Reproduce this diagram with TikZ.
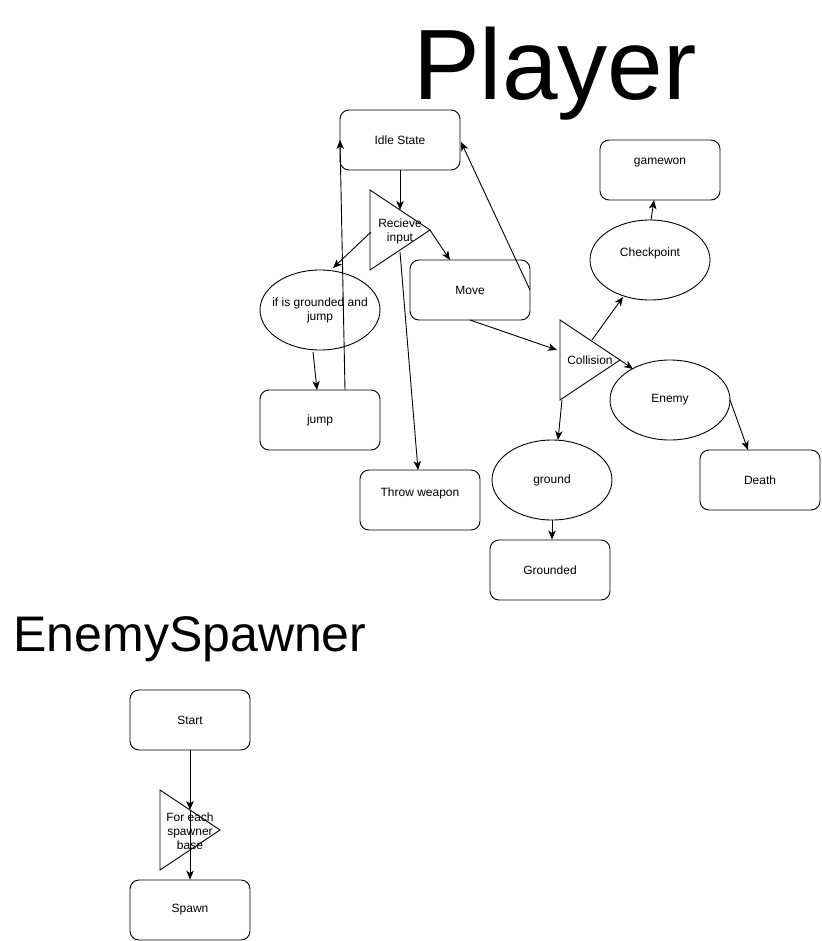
\documentclass[tikz,border=0pt]{standalone}
\usepackage{fontspec}
\setmainfont{Liberation Sans}
\usetikzlibrary{arrows.meta,shapes.geometric}
\begin{document}
\begin{tikzpicture}[x=1pt,y=-1pt,
  every node/.style={inner sep=0pt},
  box/.style={draw, line width=0.9pt, rounded corners=9pt, minimum width=120pt, minimum height=60pt, font=\fontsize{12}{14}\selectfont},
  ell/.style={draw, line width=0.9pt, ellipse, minimum width=120pt, minimum height=80pt, font=\fontsize{12}{14}\selectfont},
  lbl/.style={font=\fontsize{12}{14}\selectfont, align=center},
  tri/.style={draw, line width=0.9pt, line join=miter},
  arr/.style={draw, line width=0.9pt, -{Stealth[length=9pt,width=7.5pt,inset=2.5pt]}},
  title/.style={anchor=base}]
\useasboundingbox (0,0) rectangle (821,941);

% titles
\node[title, font=\fontsize{100}{100}\selectfont] (tplayer) at (555,100) {Player};
\node[title, font=\fontsize{50}{50}\selectfont] (tspawner) at (190,651) {EnemySpawner};

% Player nodes
\node[box] (idle) at (400,140) {Idle State};
\node[box] (move) at (470,290) {Move};
\node[ell] (ifg) at (320,310) {};
\node[lbl] (ifgT) at (320,310) {if is grounded and\\jump};
\node[box] (jump) at (320,420) {jump};
\node[box] (throw) at (420,500) {};
\node[lbl] (throwT) at (420,493) {Throw weapon};
\node[box] (gamewon) at (660,170) {};
\node[lbl] (gamewonT) at (660,163) {gamewon};
\node[ell] (check) at (650,260) {};
\node[lbl] (checkT) at (650,253) {Checkpoint};
\node[ell] (enemy) at (670,400) {Enemy};
\node[box] (death) at (760,480) {Death};
\node[ell] (ground) at (552,480) {ground};
\node[box] (grounded) at (550,570) {Grounded};

% triangles
\coordinate (recvT) at (370,190);
\coordinate (recvB) at (370,270);
\coordinate (recvA) at (430,230);
\draw[tri] (recvT) -- (recvA) -- (recvB) -- cycle;
\node[lbl] (recv) at (400,231) {Recieve\\input};

\coordinate (colT) at (560,320);
\coordinate (colB) at (560,400);
\coordinate (colA) at (620,360);
\draw[tri] (colT) -- (colA) -- (colB) -- cycle;
\node[lbl] (col) at (590,360) {Collision};

% Spawner nodes
\node[box] (start) at (190,720) {Start};
\node[box] (spawn) at (190,910) {Spawn};
\coordinate (feT) at (160,790);
\coordinate (feB) at (160,870);
\coordinate (feA) at (220,830);
\draw[tri] (feT) -- (feA) -- (feB) -- cycle;
\node[lbl] (fe) at (190,831) {For each\\spawner\\base};

% connector endpoints
\coordinate (recvIn) at (400,210);
\coordinate (recvL) at (371,232);
\coordinate (ifgIn) at (333,268);
\coordinate (moveIn) at (450,260);
\coordinate (recvMid) at (400,252);
\coordinate (throwIn) at (418,470);
\coordinate (moveR) at (530,290);
\coordinate (idleR) at (461,142);
\coordinate (ifgOut) at (313,352);
\coordinate (jumpIn) at (317,390);
\coordinate (jumpOut) at (345,390);
\coordinate (idleL) at (340,140);
\coordinate (moveOut) at (470,320);
\coordinate (colIn) at (557,350);
\coordinate (colUp) at (592,340);
\coordinate (checkIn) at (623,297);
\coordinate (checkOut) at (651,220);
\coordinate (gamewonIn) at (654,200);
\coordinate (enemyIn) at (633,369);
\coordinate (colDown) at (562,400);
\coordinate (groundIn) at (558,440);
\coordinate (enemyOut) at (730,400);
\coordinate (deathIn) at (748,450);
\coordinate (feIn) at (190,810);

% connectors
\draw[arr] (idle.south) -- (recvIn);
\draw[arr] (recvL) -- (ifgIn);
\draw[arr] (recvA) -- (moveIn);
\draw[arr] (recvMid) -- (throwIn);
\draw[arr] (moveR) -- (idleR);
\draw[arr] (ifgOut) -- (jumpIn);
\draw[arr] (jumpOut) -- (idleL);
\draw[arr] (moveOut) -- (colIn);
\draw[arr] (colUp) -- (checkIn);
\draw[arr] (checkOut) -- (gamewonIn);
\draw[arr] (colA) -- (enemyIn);
\draw[arr] (colDown) -- (groundIn);
\draw[arr] (enemyOut) -- (deathIn);
\draw[arr] (ground.south) -- (grounded.north -| ground.south);
\draw[arr] (start.south) -- (feIn);
\draw[arr] (feIn) -- (spawn.north);
\end{tikzpicture}
\end{document}
